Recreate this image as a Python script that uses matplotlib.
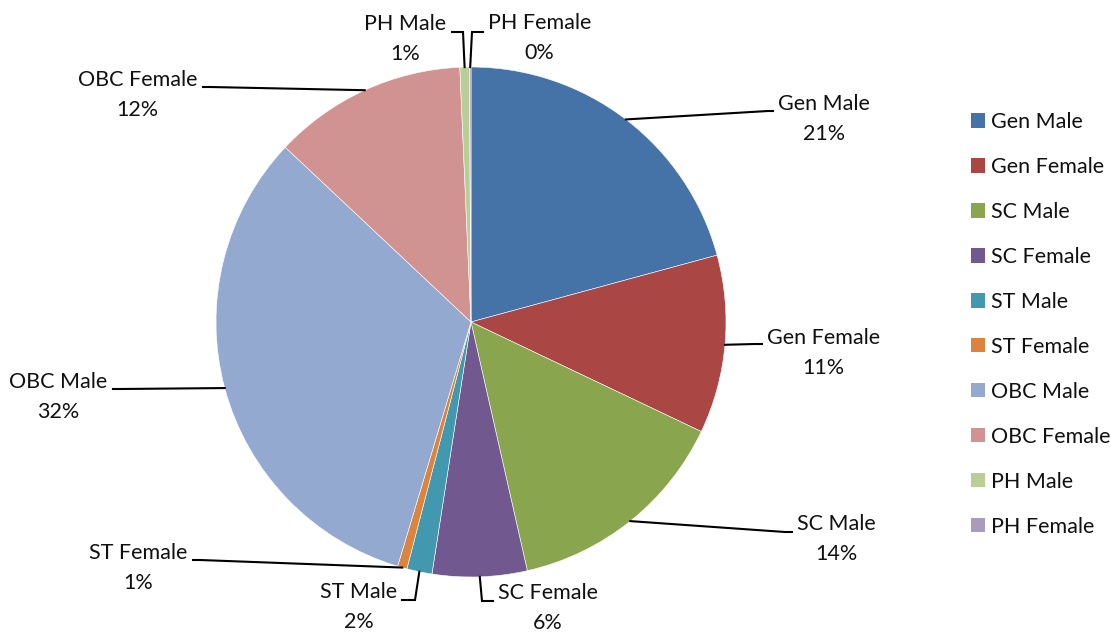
import matplotlib.pyplot as plt
from matplotlib.patches import Rectangle
import numpy as np

plt.rcParams['font.family'] = ['Lato', 'DejaVu Sans']

# data (share of each group)
categories = ['Gen Male', 'Gen Female', 'SC Male', 'SC Female', 'ST Male',
              'ST Female', 'OBC Male', 'OBC Female', 'PH Male', 'PH Female']
values = [20.8, 11.3, 14.4, 6.0, 1.6, 0.6, 32.4, 12.3, 0.6, 0.1]
colors = ['#4572A7', '#AA4643', '#89A54E', '#71588F', '#4198AF',
          '#DB843D', '#93A9CF', '#D19392', '#B9CD96', '#A99BBD']

W, H = 1111, 632
fig = plt.figure(figsize=(W / 100, H / 100), dpi=100)
ax = fig.add_axes([0, 0, 1, 1])

cx, cy, r = 471, H - 322, 255
wedges, _ = ax.pie(values, colors=colors, startangle=90, counterclock=False,
                   center=(cx, cy), radius=r, frame=True,
                   wedgeprops=dict(edgecolor='white', linewidth=0.4))
ax.set_xlim(0, W)
ax.set_ylim(0, H)
ax.set_aspect('equal')
ax.axis('off')

# label layout in pixel coords (y from top): elbow, line end, text anchor, side
label_layout = {
    'Gen Male':   ((768, 111), (773, 111), (778, 119), 'left'),
    'Gen Female': ((755, 344), (762, 344), (767, 353), 'left'),
    'SC Male':    ((785, 532), (792, 532), (797, 539), 'left'),
    'SC Female':  ((482, 601), (493, 601), (498, 608), 'left'),
    'ST Male':    ((415, 600), (402, 600), (397, 607), 'right'),
    'ST Female':  ((200, 560), (193, 560), (187, 568), 'right'),
    'OBC Male':   ((120, 389), (113, 389), (107, 397), 'right'),
    'OBC Female': ((210, 87), (203, 87), (197, 95), 'right'),
    'PH Male':    ((463, 32), (452, 32), (446, 39), 'right'),
    'PH Female':  ((472, 32), (483, 32), (488, 38), 'left'),
}

total = sum(values)
for w, name, v in zip(wedges, categories, values):
    mid = np.deg2rad((w.theta1 + w.theta2) / 2)
    ex, ey = cx + r * np.cos(mid), cy + r * np.sin(mid)
    elbow, end, txt, side = label_layout[name]
    ax.plot([ex, elbow[0], end[0]], [ey, H - elbow[1], H - end[1]],
            color='black', lw=1.5, solid_joinstyle='miter', zorder=3)
    ax.text(txt[0], H - txt[1], f"{name}\n{round(v / total * 100):.0f}%",
            ha=side, va='center', multialignment='center',
            fontsize=15.5, linespacing=1.6, color='#111111')

# legend
handles = [Rectangle((0, 0), 1, 1, facecolor=c, edgecolor='none') for c in colors]
fig.legend(handles, categories, loc='upper left', bbox_to_anchor=(971 / W, 1 - 112 / H),
           frameon=False, fontsize=15.5, handlelength=0.65, handleheight=0.65,
           handletextpad=0.3, labelspacing=1.16, borderpad=0, borderaxespad=0,
           labelcolor='#111111')

fig.savefig('out.png', dpi=100, facecolor='white')
